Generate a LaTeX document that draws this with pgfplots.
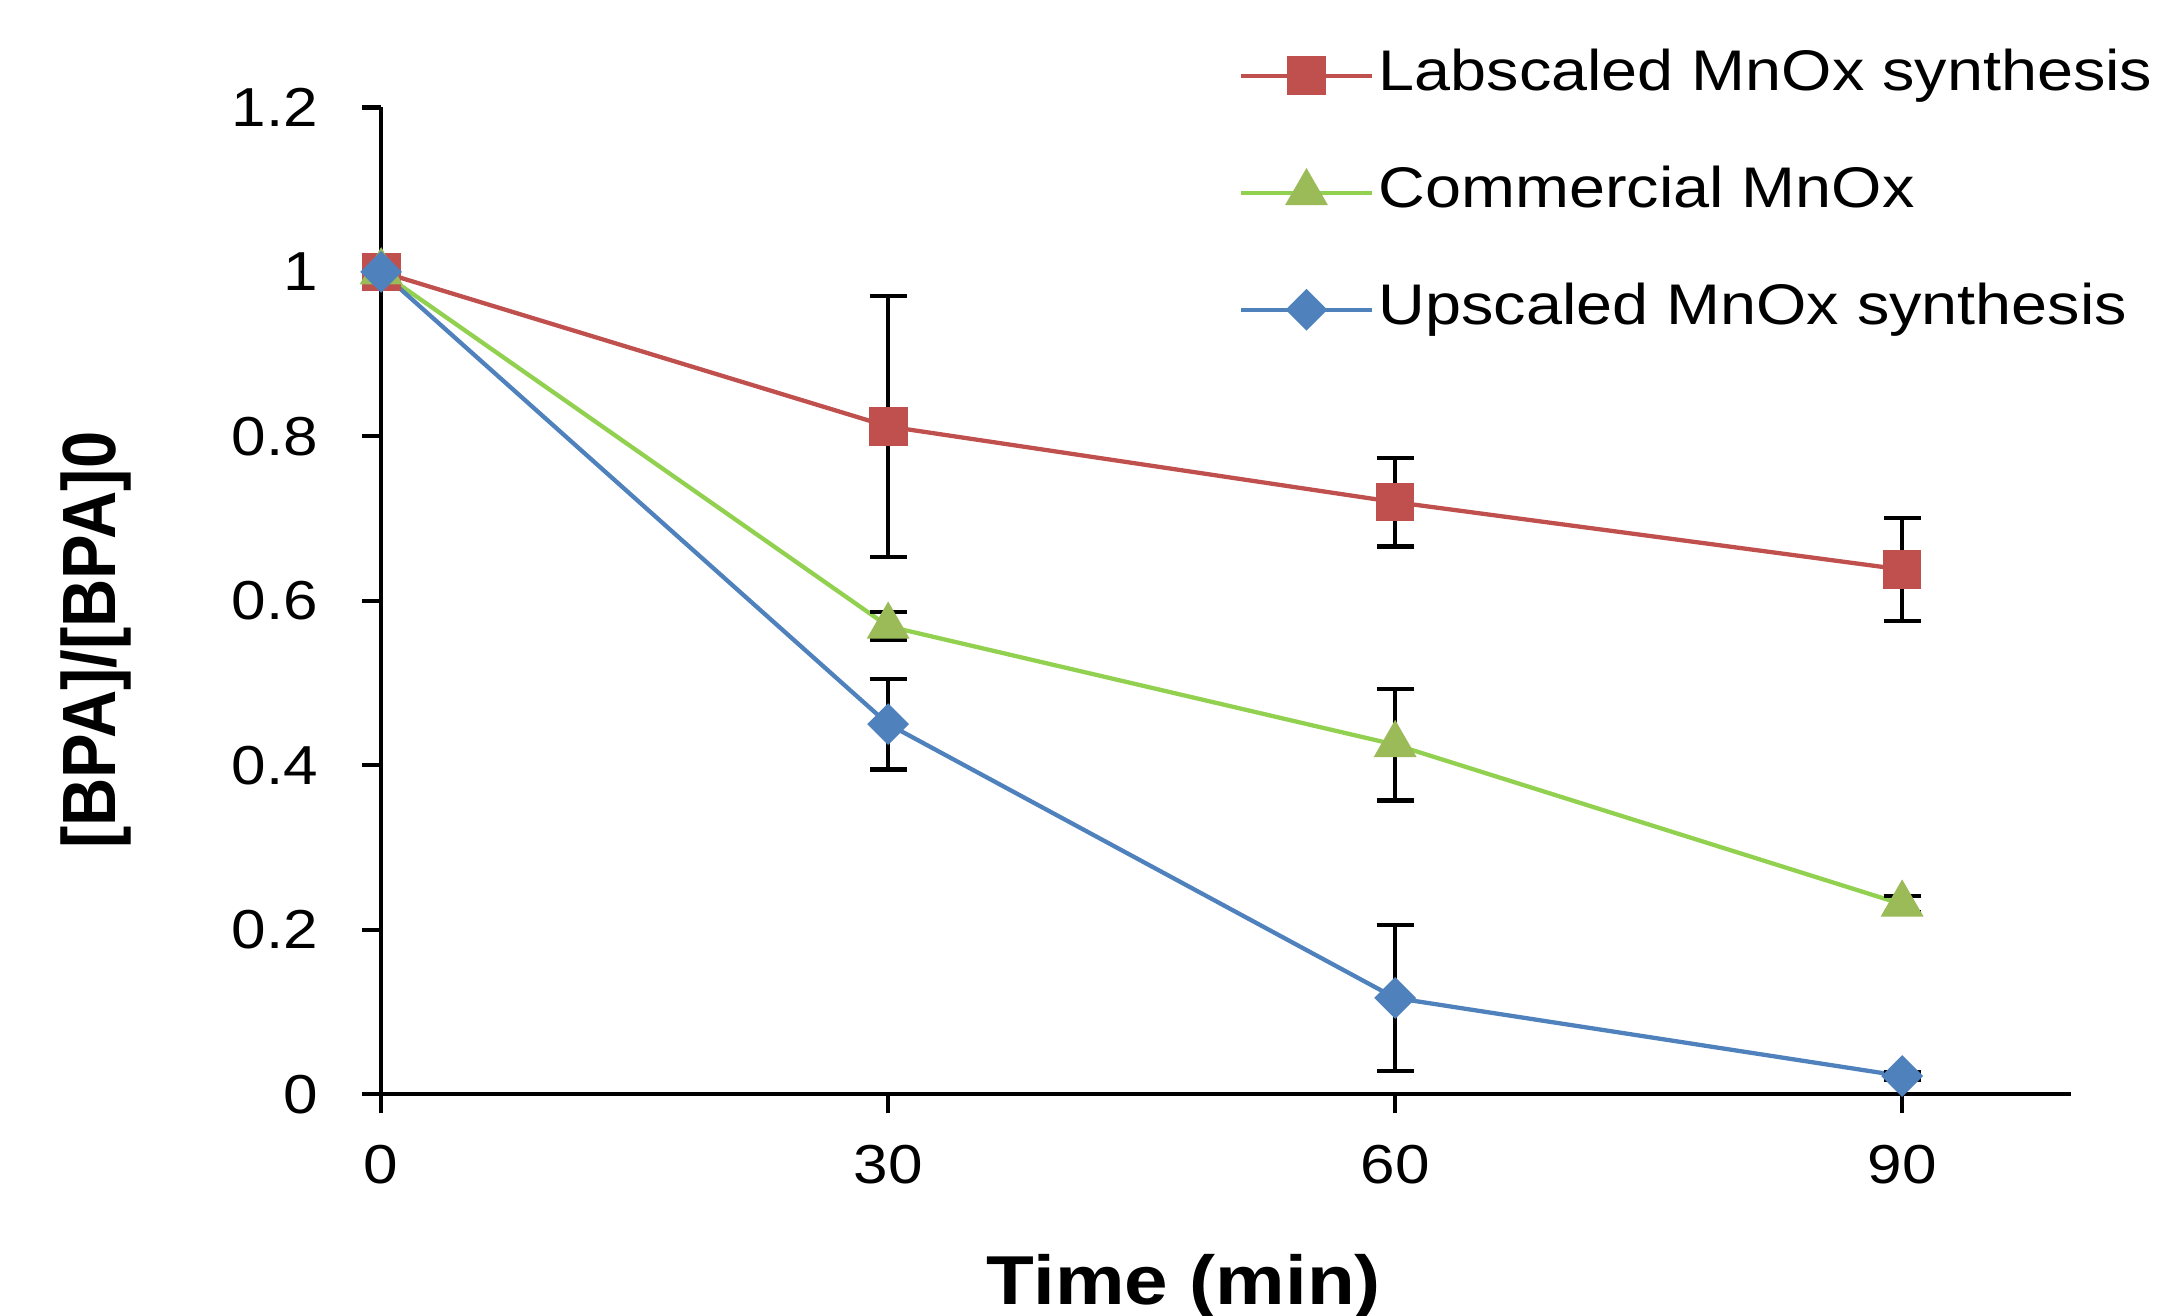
\documentclass[border=0pt]{standalone}
\usepackage{fontspec}
\setmainfont{Liberation Sans}[FakeStretch=1.13]
\newfontfamily\plainsans{Liberation Sans}
\usepackage{pgfplots}
\pgfplotsset{compat=1.18}
\usepackage{pgfplotstable}

\definecolor{labred}{HTML}{C0504D}
\definecolor{comline}{HTML}{92D050}
\definecolor{commark}{HTML}{9BBB59}
\definecolor{upblue}{HTML}{4F81BD}

% time, BPA/BPA0, error
\pgfplotstableread{
t  y     e
0  1.000 0
30 0.812 0.159
60 0.720 0.054
90 0.638 0.063
}\labscaled
\pgfplotstableread{
t  y     e
0  1.000 0
30 0.569 0.017
60 0.425 0.068
90 0.231 0.010
}\commercial
\pgfplotstableread{
t  y     e
0  1.000 0
30 0.450 0.055
60 0.117 0.089
90 0.022 0.005
}\upscaled

\begin{document}
\begin{tikzpicture}
\begin{axis}[
  scale only axis, width=354pt, height=206.7pt,
  xmin=0, xmax=100, ymin=0, ymax=1.2,
  axis lines=left, axis line style={-, line width=0.9pt, black},
  xtick={0,30,60,90}, ytick={0,0.2,0.4,0.6,0.8,1,1.2},
  tick align=outside, major tick length=4pt,
  tick style={black, line width=0.9pt},
  /pgf/number format/assume math mode=true,
  tick label style={font=\fontsize{11.5}{13}\selectfont},
  xticklabel style={anchor=north, inner sep=0pt, yshift=-6.5pt},
  yticklabel style={anchor=east, inner sep=0pt, xshift=-9pt},
  xlabel={\bfseries Time (min)},
  xlabel style={font=\fontsize{14.5}{17}\selectfont, at={(axis description cs:0.475,-0.195)}, anchor=center},
  ylabel={\scalebox{1}[1.13]{\plainsans\bfseries [BPA]/[BPA]0}},
  ylabel style={font=\fontsize{14}{17}\selectfont, at={(axis description cs:-0.1686,0.46)}, anchor=center},
  clip=false,
  legend cell align=left,
  legend image code/.code={\draw[#1, mark repeat=2, mark phase=2] plot coordinates {(0pt,0pt) (13.7pt,0pt) (27.4pt,0pt)};},
  legend style={at={(axis description cs:0.507,1.062)}, anchor=north west, draw=none, fill=none,
    font=\fontsize{12}{14}\selectfont, inner sep=0pt, row sep=12.5pt, column sep=0pt,
    nodes={inner xsep=1pt, inner ysep=0pt, text height=9pt, text depth=3pt}},
  every axis plot/.append style={line width=0.9pt},
  error bars/error bar style={black, line width=0.9pt, solid},
  error bars/error mark options={black, rotate=90, mark size=3.9pt, line width=0.9pt},
]
\addplot[color=labred, mark=square*, mark size=3.6pt, mark options={fill=labred, draw=labred},
  error bars/.cd, y dir=both, y explicit]
  table[x=t, y=y, y error=e] {\labscaled};
\addlegendentry{Labscaled MnOx synthesis}
\addplot[color=comline, mark=triangle*, mark size=4.3pt, mark options={fill=commark, draw=commark},
  error bars/.cd, y dir=both, y explicit]
  table[x=t, y=y, y error=e] {\commercial};
\addlegendentry{Commercial MnOx}
\addplot[color=upblue, mark=square*, mark size=2.65pt, mark options={fill=upblue, draw=upblue, rotate=45},
  error bars/.cd, y dir=both, y explicit]
  table[x=t, y=y, y error=e] {\upscaled};
\addlegendentry{Upscaled MnOx synthesis}
\end{axis}
\pgfresetboundingbox
\useasboundingbox (-79.85pt,-46.41pt) rectangle (372.2pt,229.2pt);
\end{tikzpicture}
\end{document}
